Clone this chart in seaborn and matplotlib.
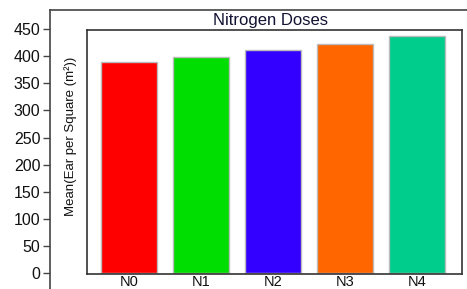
import matplotlib
matplotlib.use("Agg")
import matplotlib.pyplot as plt
import seaborn as sns
import pandas as pd

categories = ["N0", "N1", "N2", "N3", "N4"]
values = [389, 398, 411, 422, 437]
colors = ["#FF0000", "#00DD00", "#3300FF", "#FF6600", "#00CC8C"]
yticks = [0, 50, 100, 150, 200, 250, 300, 350, 400, 450]
title = "Nitrogen Doses"
ylabel = "Mean(Ear per Square (m²))"

sns.set_style("white")
plt.rcParams['font.family'] = ['Liberation Sans', 'DejaVu Sans']

W, H = 467, 289
fig = plt.figure(figsize=(W / 100, H / 100), dpi=100)

def px(v):
    return (273 - v) / 27.1 * 50

# outer axis (tick scale)
ax2 = fig.add_axes([50 / W, 0, 1 - 50 / W, (H - 10) / H])
ax2.set_ylim(px(289), px(10))
ax2.set_xlim(0, 1)
ax2.set_yticks(yticks)
ax2.set_xticks([])
for s in ["bottom", "right"]:
    ax2.spines[s].set_visible(False)
for s in ["left", "top"]:
    ax2.spines[s].set_color("#444444")
    ax2.spines[s].set_linewidth(1.2)
ax2.tick_params(axis="y", length=5, width=1, color="#444444", labelsize=11.5,
                labelcolor="#111111", pad=2, left=True)
ax2.patch.set_alpha(0)

# inner panel
ax = fig.add_axes([87 / W, (H - 274) / H, (462 - 87) / W, (274 - 30) / H])
df = pd.DataFrame({"cat": categories, "val": values})
sns.barplot(data=df, x="cat", y="val", hue="cat", palette=colors, legend=False,
            saturation=1, width=0.78, edgecolor="#BBBBBB", linewidth=1, ax=ax)
ax.set_ylim(px(274), px(30))
ax.set_xlim(-0.58, 4.625)
ax.set_yticks([])
ax.set_xlabel("")
ax.set_ylabel("")
ax.tick_params(axis="x", length=0, labelsize=10.5, pad=1, labelcolor="#111111")
for s in ax.spines.values():
    s.set_visible(True)
    s.set_color("#333333")
    s.set_linewidth(1.2)

fig.text(270.5 / W, 1 - 21 / H, title, ha="center", va="center", fontsize=12, color="#111133")
fig.text(71 / W, 1 - 136 / H, ylabel, ha="center", va="center", rotation=90,
         fontsize=9.5, color="#111111")

fig.savefig("out.png", dpi=100)
